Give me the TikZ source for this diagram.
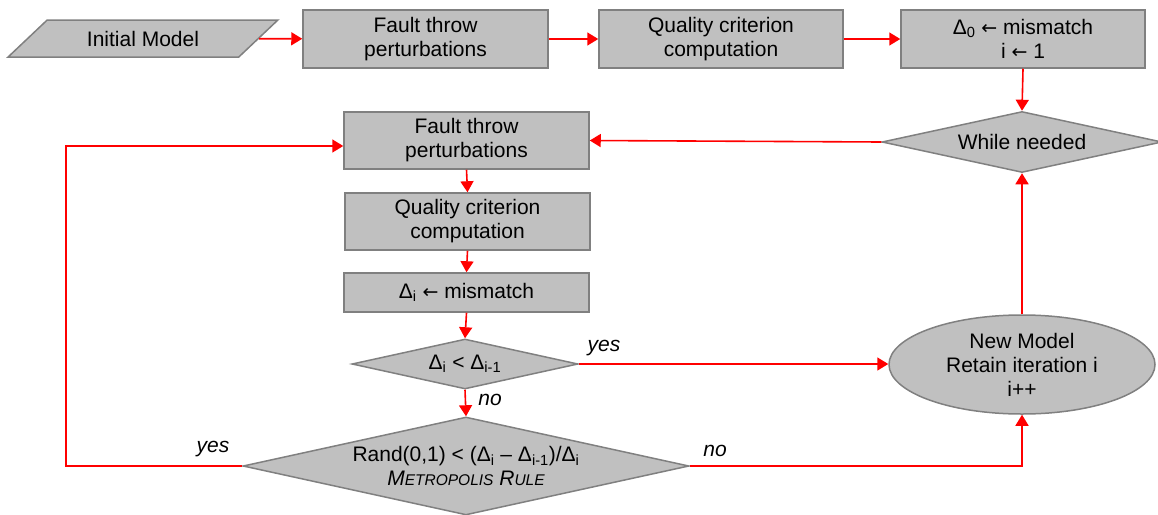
\documentclass[tikz,border=0pt]{standalone}
\usepackage{fontspec}
\setmainfont{Liberation Sans}
\usetikzlibrary{shapes.geometric,arrows.meta}
\definecolor{boxfill}{HTML}{C0C0C0}
\definecolor{boxline}{HTML}{808080}
\definecolor{arrred}{HTML}{FF0000}
\newcommand{\mysc}[1]{{\fontsize{15.5}{24}\selectfont #1}}
\newcommand{\lowidx}[1]{\textsubscript{#1}}
\newcommand{\larr}{{\fontspec{DejaVu Sans}\fontsize{19}{24}\selectfont ←}}
\begin{document}
\begin{tikzpicture}[x=1pt,y=-1pt,
  every node/.style={font=\fontsize{21}{24}\selectfont},
  flowbox/.style={rectangle,draw=boxline,fill=boxfill,line width=1.5pt,align=center,inner sep=0pt},
  iobox/.style={trapezium,trapezium left angle=34,trapezium right angle=146,trapezium stretches=true,
    draw=boxline,fill=boxfill,line width=1.5pt,align=center,inner sep=0pt},
  decision/.style={diamond,draw=boxline,fill=boxfill,line width=1.5pt,align=center,inner sep=0pt},
  terminal/.style={ellipse,draw=boxline,fill=boxfill,line width=1.5pt,align=center,inner xsep=0pt,inner ysep=-2pt},
  arr/.style={draw=arrred,line width=1.6pt,-{Triangle[length=11pt,width=13pt]}},
  lbl/.style={font=\fontsize{21}{24}\selectfont\itshape,inner sep=0pt}
]
\useasboundingbox (0,0) rectangle (1158,514);

\node[iobox,minimum width=270pt,minimum height=37pt] (IM) at (143,38.5) {Initial Model};
\node[flowbox,minimum width=245pt,minimum height=58pt] (FT1) at (425.5,39) {Fault throw\\perturbations};
\node[flowbox,minimum width=244pt,minimum height=58pt] (QC1) at (721,39) {Quality criterion\\computation};
\node[flowbox,minimum width=244pt,minimum height=58pt] (D0) at (1023,39) {Δ\lowidx{0} \larr{} mismatch\\i \larr{} 1};
\node[decision,aspect=4.6,minimum width=280pt,minimum height=61pt] (WN) at (1022,142) {While needed};
\node[flowbox,minimum width=245pt,minimum height=57pt] (FT2) at (466.5,140.5) {Fault throw\\perturbations};
\node[flowbox,minimum width=245pt,minimum height=57pt] (QC2) at (467.5,221.5) {Quality criterion\\computation};
\node[flowbox,minimum width=245pt,minimum height=39pt] (DI) at (466.5,292.5) {Δ\lowidx{i} \larr{} mismatch};
\node[decision,aspect=4.5,minimum width=226pt,minimum height=50pt] (SD) at (465,364) {Δ\lowidx{i} < Δ\lowidx{i-1}};
\node[decision,aspect=4.55,minimum width=446pt,minimum height=98pt] (MET) at (466,466)
  {Rand(0,1) < (Δ\lowidx{i} – Δ\lowidx{i-1})/Δ\lowidx{i}\\{\itshape M\mysc{ETROPOLIS} R\mysc{ULE}}};
\node[terminal,minimum width=266pt,minimum height=99pt] (ELL) at (1022,364.5) {New Model\\Retain iteration i\\i++};

\coordinate (LB) at (66,146);

\draw[arr] (IM) -- (FT1);
\draw[arr] (FT1) -- (QC1);
\draw[arr] (QC1) -- (D0);
\draw[arr] (D0.south) -- (WN.north);
\draw[arr] (WN.west) -- (FT2.east);
\draw[arr] (FT2.south) -- (QC2.north);
\draw[arr] (QC2.south) -- (DI.north);
\draw[arr] (DI.south) -- (SD.north);
\draw[arr] (SD.east) -- (ELL.west |- SD.east);
\draw[arr] (SD.south) -- (MET.north);
\draw[arr] (MET.west) -| (LB) -- (FT2.west |- LB);
\draw[arr] (MET.east) -| (ELL.south);
\draw[arr] (ELL.north) -- (WN.south);

\node[lbl] (Lyes1) at (604,348) {yes};
\node[lbl] (Lno1) at (490,400) {no};
\node[lbl] (Lyes2) at (213,449) {yes};
\node[lbl] (Lno2) at (715,451) {no};
\end{tikzpicture}
\end{document}
